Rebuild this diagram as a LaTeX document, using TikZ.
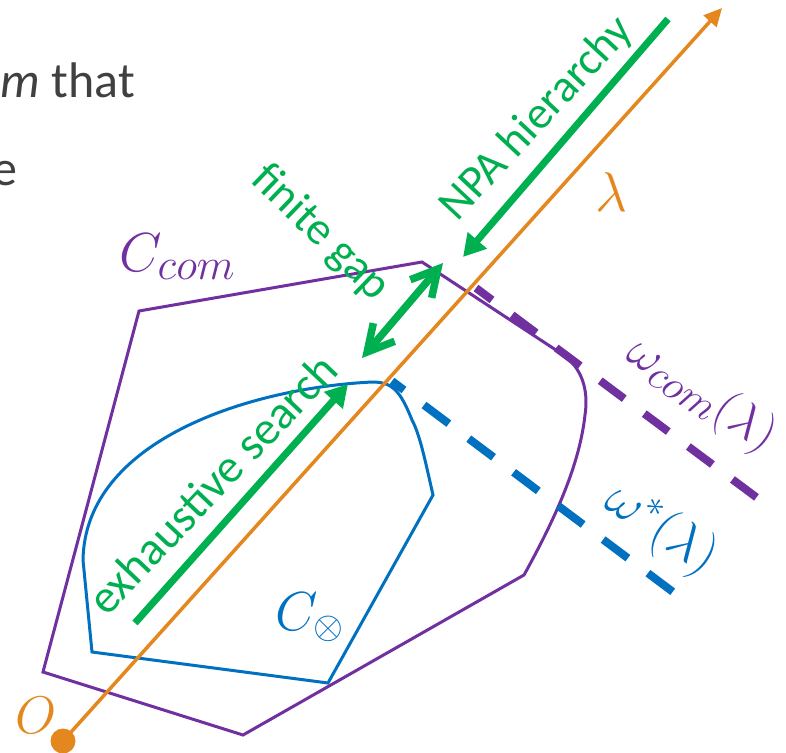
\RequirePackage{fix-cm}
\documentclass[tikz,border=0pt]{standalone}
\usepackage{fontspec}
\setmainfont{Carlito}
\usetikzlibrary{arrows.meta}
\definecolor{cpurple}{RGB}{112,48,160}
\definecolor{cblue}{RGB}{0,112,192}
\definecolor{cgreen}{RGB}{0,176,80}
\definecolor{corange}{RGB}{228,135,30}
\definecolor{cgray}{RGB}{64,64,64}
\newcommand{\subtxt}[2]{\mbox{\fontsize{#1}{#1}\selectfont$#2$}}
\begin{document}
\begin{tikzpicture}[x=1pt,y=-1pt,
  region/.style={line width=3pt, line join=miter},
  purpleregion/.style={region, draw=cpurple},
  blueregion/.style={region, draw=cblue},
  axis/.style={draw=corange, line width=3.5pt, -{Triangle[length=18pt,width=17pt]}},
  greenarrow/.style={draw=cgreen, line width=7pt, -{Triangle[length=22pt,width=24pt]}},
  gaparrow/.style={draw=cgreen, line width=7.5pt, {Straight Barb[length=26pt,width=28pt]}-{Straight Barb[length=26pt,width=28pt]}},
  supportline/.style={line width=8pt, dash pattern=on 30pt off 25pt},
  greenlabel/.style={text=cgreen, font=\fontsize{46}{50}\selectfont, inner sep=0pt},
  mathlabel/.style={inner sep=0pt}
]
\useasboundingbox (0,0) rectangle (786,752);
\clip (0,0) rectangle (786,752);

% slide text fragments
\node[text=cgray, font=\fontsize{50}{60}\selectfont, inner sep=0pt, anchor=base east] (t1) at (135,97) {\textit{m} that};
\node[text=cgray, font=\fontsize{50}{60}\selectfont, inner sep=0pt, anchor=base east] (t2) at (18,185) {e};

% regions
\draw[purpleregion] (139,311) -- (422,262) -- (565,356)
  .. controls (585,372) and (588,395) .. (585,415)
  .. controls (580,460) and (560,510) .. (524,575)
  -- (243,735) -- (43,672) -- cycle;
\draw[blueregion] (92,652) -- (328,683) -- (433,495)
  .. controls (425,460) and (420,435) .. (412,420)
  .. controls (400,390) and (392,382) .. (372,382)
  .. controls (250,388) and (85,440) .. (83,560) -- cycle;

% supporting lines
\coordinate (wcs) at (476,288);
\coordinate (wce) at (760,500);
\draw[cpurple, supportline, dash phase=10pt] (wcs) -- (wce);
\coordinate (wss) at (392,381);
\coordinate (wse) at (673,592);
\draw[cblue, line width=8pt, dash pattern=on 31pt off 25pt, dash phase=16pt] (wss) -- (wse);

% axis
\coordinate (O) at (63,741);
\coordinate (axisend) at (722,8);
\draw[axis] (O) -- (axisend);
\node[circle, fill=corange, minimum size=25pt, inner sep=0pt] (Odot) at (O) {};

% green arrows
\coordinate (npaA) at (668,19);
\coordinate (npaB) at (463,257);
\draw[greenarrow] (npaA) -- (npaB);
\coordinate (exA) at (135,623);
\coordinate (exB) at (348,384);
\draw[greenarrow] (exA) -- (exB);
\coordinate (gapA) at (362,358);
\coordinate (gapB) at (443,263);
\draw[gaparrow] (gapA) -- (gapB);

% green labels
\node[greenlabel, rotate=47] (npa) at (537,119) {NPA hierarchy};
\node[greenlabel, font=\fontsize{47}{50}\selectfont, rotate=46.5] (exh) at (212,484) {exhaustive search};
\node[greenlabel, rotate=-44] (gap) at (320,233) {finite gap};

% math labels
\node[mathlabel, text=cpurple, font=\fontsize{55}{60}\selectfont, anchor=base west] (ccom) at (119,271) {$C_{\subtxt{44}{com}}$};
\node[mathlabel, text=cblue, font=\fontsize{55}{60}\selectfont, anchor=base west] (cot) at (275,630) {$C_\otimes$};
\node[mathlabel, text=corange, font=\fontsize{53}{60}\selectfont, anchor=base west] (olab) at (15,733) {$O$};
\node[mathlabel, text=corange, font=\fontsize{56}{60}\selectfont] (lam) at (611,192) {$\lambda$};
\node[mathlabel, text=cpurple, font=\fontsize{50}{60}\selectfont, rotate=-34] (wcom) at (701,395) {$\omega_{\subtxt{42}{com}}(\lambda)$};
\node[mathlabel, text=cblue, font=\fontsize{54}{60}\selectfont, rotate=-34] (wstar) at (661,530) {$\omega^*(\lambda)$};
\end{tikzpicture}
\end{document}
